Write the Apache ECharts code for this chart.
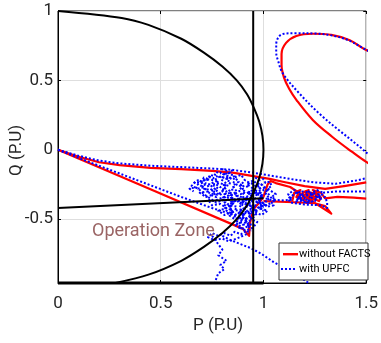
<!DOCTYPE html>
<html>
<head>
<meta charset="utf-8">
<script src="https://cdn.jsdelivr.net/npm/echarts@6/dist/echarts.min.js"></script>
<style>
  html, body { margin: 0; padding: 0; background: #fff; }
  #chart { width: 381px; height: 343px; }
</style>
</head>
<body>
<div id="chart"></div>
<script>
// Axis extents and tick labels (P and Q in per-unit)
const pRange = [0, 1.5];
const qRange = [-0.96, 1];
const pTicks = [0, 0.5, 1, 1.5];
const qTicks = [-0.5, 0, 0.5, 1];
const legendNames = ['without FACTS', 'with UPFC'];

// Generator capability limit (unit circle), read point by point
const capabilityCurve = [
  [0, 1], [0.31, 0.95], [0.44, 0.9], [0.6, 0.8], [0.71, 0.7], [0.8, 0.6],
  [0.87, 0.5], [0.92, 0.4], [0.954, 0.3], [0.98, 0.2], [0.995, 0.1], [1.0, 0],
  [0.995, -0.1], [0.98, -0.2], [0.954, -0.3], [0.92, -0.4], [0.87, -0.5],
  [0.8, -0.6], [0.71, -0.7], [0.6, -0.8], [0.44, -0.9], [0.28, -0.96]
];
// Active power limit, under-excitation limit and bottom limit
const pLimit = [[0.95, 1], [0.95, -0.96]];
const underExcitation = [[0, -0.42], [1.0, -0.35]];
const bottomLimit = [[0, -0.96], [1.0, -0.96]];

// Trajectory without FACTS
const redUpper = [
  [0, 0], [0.1, -0.05], [0.2, -0.09], [0.3, -0.11], [0.45, -0.13], [0.6, -0.14],
  [0.75, -0.152], [0.85, -0.165], [0.95, -0.19], [1.03, -0.21], [1.1, -0.232],
  [1.2, -0.262], [1.3, -0.282], [1.4, -0.26], [1.5, -0.235]
];
const redLower = [
  [0, 0], [0.45, -0.285], [0.9, -0.57], [0.93, -0.62], [0.935, -0.52], [0.928, -0.57],
  [0.95, -0.43], [0.98, -0.38], [1.0, -0.34], [1.02, -0.25], [1.035, -0.225],
  [1.06, -0.24], [1.13, -0.268], [1.33, -0.46], [1.3, -0.405], [1.25, -0.385],
  [1.15, -0.378], [1.0, -0.37]
];
const redCluster = [
  [1.14, -0.37], [1.15, -0.31], [1.18, -0.29], [1.16, -0.34], [1.2, -0.36], [1.19, -0.31],
  [1.22, -0.29], [1.21, -0.34], [1.24, -0.37], [1.23, -0.32], [1.26, -0.3], [1.25, -0.35],
  [1.21, -0.38], [1.19, -0.33], [1.22, -0.35], [1.27, -0.33], [1.24, -0.29], [1.28, -0.31],
  [1.3, -0.35], [1.36, -0.34], [1.44, -0.345], [1.5, -0.352]
];
const redClusterCore = [
  [1.16, -0.3], [1.175, -0.32], [1.165, -0.345], [1.185, -0.355], [1.195, -0.335], [1.21, -0.31],
  [1.225, -0.325], [1.215, -0.35], [1.235, -0.365], [1.245, -0.34], [1.235, -0.315], [1.255, -0.31],
  [1.265, -0.33], [1.25, -0.355], [1.27, -0.37], [1.28, -0.345], [1.26, -0.32], [1.2, -0.3]
];
const redLoop = [
  [1.62, 0.66], [1.5, 0.719], [1.42, 0.79], [1.33, 0.828], [1.24, 0.836], [1.16, 0.82],
  [1.11, 0.77], [1.088, 0.69], [1.088, 0.61], [1.1, 0.52], [1.125, 0.44], [1.16, 0.36],
  [1.24, 0.215], [1.334, 0.094], [1.43, -0.014], [1.5, -0.087], [1.58, -0.15]
];

// Trajectory with UPFC
const blueUpper = [
  [0, 0], [0.1, -0.043], [0.2, -0.078], [0.3, -0.098], [0.45, -0.115], [0.6, -0.125],
  [0.75, -0.135], [0.85, -0.145], [0.95, -0.165], [1.05, -0.19], [1.15, -0.215],
  [1.25, -0.235], [1.35, -0.245], [1.45, -0.222], [1.5, -0.205]
];
const blueLower = [
  [0, 0], [0.12, -0.07], [0.28, -0.16], [0.44, -0.25], [0.6, -0.34], [0.75, -0.42],
  [0.9, -0.49], [0.93, -0.53]
];
const blueCloud = [
  [0.85, -0.145], [0.83, -0.17], [0.86, -0.19], [0.82, -0.21], [0.79, -0.19], [0.76, -0.22],
  [0.72, -0.21], [0.7, -0.24], [0.67, -0.23], [0.65, -0.26], [0.68, -0.28], [0.71, -0.27],
  [0.73, -0.3], [0.69, -0.31], [0.72, -0.34], [0.76, -0.32], [0.78, -0.28], [0.75, -0.25],
  [0.79, -0.24], [0.82, -0.26], [0.8, -0.3], [0.83, -0.33], [0.79, -0.35], [0.76, -0.37],
  [0.73, -0.36], [0.75, -0.4], [0.79, -0.39], [0.82, -0.42], [0.78, -0.44], [0.81, -0.47],
  [0.85, -0.45], [0.83, -0.4], [0.86, -0.37], [0.84, -0.33], [0.87, -0.3], [0.85, -0.26],
  [0.88, -0.23], [0.86, -0.2], [0.89, -0.18], [0.91, -0.22], [0.88, -0.27], [0.91, -0.3],
  [0.89, -0.34], [0.92, -0.36], [0.89, -0.39], [0.92, -0.42], [0.88, -0.44], [0.91, -0.47],
  [0.87, -0.49], [0.9, -0.52], [0.86, -0.54], [0.89, -0.57], [0.93, -0.55], [0.91, -0.5],
  [0.94, -0.47], [0.92, -0.44], [0.96, -0.41], [0.93, -0.38], [0.96, -0.35], [0.93, -0.32],
  [0.95, -0.28], [0.92, -0.25], [0.95, -0.22], [0.97, -0.25], [0.99, -0.29], [0.96, -0.31],
  [1.0, -0.33], [0.97, -0.37], [1.01, -0.39], [0.98, -0.42], [1.02, -0.44], [0.99, -0.47],
  [0.96, -0.45], [0.94, -0.5], [0.97, -0.52], [0.95, -0.56], [0.92, -0.58], [0.89, -0.61],
  [0.86, -0.59], [0.84, -0.62], [0.81, -0.6], [0.78, -0.62], [0.75, -0.6], [0.73, -0.63],
  [0.76, -0.65], [0.8, -0.64], [0.83, -0.66], [0.87, -0.64], [0.9, -0.62], [0.93, -0.6]
];
const blueCloudCore = [
  [0.8, -0.28], [0.82, -0.3], [0.81, -0.32], [0.84, -0.31], [0.85, -0.34], [0.83, -0.36],
  [0.86, -0.38], [0.84, -0.4], [0.87, -0.41], [0.86, -0.44], [0.89, -0.43], [0.88, -0.46],
  [0.9, -0.45], [0.91, -0.48], [0.89, -0.5], [0.92, -0.51], [0.9, -0.54], [0.93, -0.53],
  [0.92, -0.56], [0.94, -0.55], [0.93, -0.49], [0.95, -0.47], [0.94, -0.44], [0.96, -0.43],
  [0.95, -0.4], [0.93, -0.41], [0.91, -0.39], [0.93, -0.36], [0.91, -0.34], [0.94, -0.33],
  [0.92, -0.3], [0.95, -0.31], [0.97, -0.33], [0.96, -0.29], [0.98, -0.31], [0.99, -0.35],
  [0.97, -0.38], [0.99, -0.4], [0.97, -0.43], [0.95, -0.45], [0.92, -0.46], [0.9, -0.42],
  [0.88, -0.4], [0.9, -0.37], [0.88, -0.35], [0.86, -0.32], [0.88, -0.3], [0.9, -0.28],
  [0.89, -0.25], [0.91, -0.27], [0.93, -0.26], [0.92, -0.23], [0.94, -0.24], [0.96, -0.26],
  [0.98, -0.24], [1.0, -0.26], [1.02, -0.29], [1.01, -0.32], [1.03, -0.35], [1.01, -0.37],
  [1.03, -0.39], [1.0, -0.41], [0.98, -0.38], [0.96, -0.37], [0.94, -0.38], [0.92, -0.4],
  [0.89, -0.37], [0.87, -0.36], [0.85, -0.39], [0.83, -0.42], [0.85, -0.43], [0.84, -0.46],
  [0.86, -0.48], [0.88, -0.49], [0.87, -0.52], [0.89, -0.53], [0.88, -0.56], [0.9, -0.57],
  [0.92, -0.59], [0.94, -0.58]
];
const blueCloudDense = [
  [0.83, -0.29], [0.845, -0.305], [0.835, -0.32], [0.85, -0.33], [0.865, -0.315], [0.875, -0.33],
  [0.87, -0.35], [0.885, -0.36], [0.875, -0.375], [0.895, -0.385], [0.905, -0.37], [0.915, -0.385],
  [0.91, -0.405], [0.925, -0.415], [0.935, -0.4], [0.945, -0.415], [0.94, -0.43], [0.955, -0.44],
  [0.945, -0.455], [0.93, -0.445], [0.92, -0.46], [0.905, -0.45], [0.895, -0.465], [0.88, -0.455],
  [0.87, -0.47], [0.855, -0.46], [0.85, -0.44], [0.835, -0.43], [0.84, -0.41], [0.825, -0.395],
  [0.835, -0.38], [0.85, -0.37], [0.86, -0.355], [0.845, -0.345], [0.83, -0.35], [0.82, -0.335],
  [0.81, -0.345], [0.8, -0.36], [0.815, -0.375], [0.805, -0.39], [0.82, -0.41], [0.81, -0.425],
  [0.825, -0.445], [0.84, -0.455], [0.835, -0.475], [0.85, -0.49], [0.865, -0.5], [0.88, -0.485],
  [0.895, -0.5], [0.905, -0.485], [0.92, -0.495], [0.935, -0.48], [0.95, -0.49], [0.96, -0.47],
  [0.97, -0.455], [0.965, -0.435], [0.975, -0.415], [0.96, -0.4], [0.97, -0.38], [0.955, -0.365],
  [0.94, -0.355], [0.93, -0.34], [0.915, -0.35], [0.9, -0.34], [0.89, -0.32], [0.9, -0.305],
  [0.915, -0.315], [0.93, -0.305], [0.945, -0.32], [0.96, -0.31], [0.975, -0.325], [0.985, -0.345],
  [0.975, -0.36], [0.99, -0.375], [0.98, -0.395], [0.995, -0.41], [0.985, -0.43], [1.0, -0.44]
];
const blueCloudWest = [
  [0.66, -0.24], [0.68, -0.22], [0.7, -0.23], [0.71, -0.2], [0.73, -0.21], [0.74, -0.18],
  [0.76, -0.19], [0.77, -0.16], [0.79, -0.17], [0.8, -0.14], [0.82, -0.15], [0.81, -0.18],
  [0.83, -0.19], [0.82, -0.22], [0.84, -0.23], [0.83, -0.26], [0.81, -0.25], [0.79, -0.27],
  [0.77, -0.25], [0.78, -0.22], [0.76, -0.23], [0.74, -0.25], [0.72, -0.24], [0.7, -0.27],
  [0.72, -0.29], [0.74, -0.28], [0.76, -0.3], [0.75, -0.33], [0.77, -0.34], [0.78, -0.31],
  [0.8, -0.33], [0.81, -0.36], [0.79, -0.37], [0.77, -0.38], [0.75, -0.36], [0.73, -0.34],
  [0.71, -0.32], [0.69, -0.29], [0.67, -0.27], [0.64, -0.28], [0.66, -0.3]
];
const blueCloudWestDense = [
  [0.84, -0.16], [0.825, -0.175], [0.81, -0.165], [0.8, -0.185], [0.785, -0.2], [0.77, -0.19],
  [0.755, -0.205], [0.74, -0.195], [0.73, -0.215], [0.715, -0.225], [0.7, -0.215], [0.69, -0.235],
  [0.68, -0.25], [0.695, -0.26], [0.71, -0.25], [0.725, -0.265], [0.74, -0.255], [0.755, -0.27],
  [0.765, -0.285], [0.75, -0.295], [0.735, -0.31], [0.745, -0.32], [0.76, -0.315], [0.775, -0.325],
  [0.79, -0.31], [0.8, -0.295], [0.815, -0.28], [0.805, -0.265], [0.82, -0.245], [0.81, -0.23],
  [0.795, -0.215], [0.805, -0.2], [0.82, -0.195], [0.835, -0.21], [0.85, -0.2], [0.86, -0.215],
  [0.855, -0.235], [0.87, -0.25], [0.86, -0.265], [0.845, -0.275], [0.85, -0.295]
];
const blueCloudEast = [
  [0.96, -0.2], [0.98, -0.22], [1.0, -0.21], [1.01, -0.24], [1.03, -0.23], [1.04, -0.26],
  [1.02, -0.28], [1.04, -0.3], [1.06, -0.32], [1.04, -0.34], [1.06, -0.36], [1.04, -0.38],
  [1.05, -0.4], [1.02, -0.41], [1.0, -0.39], [0.98, -0.36], [1.0, -0.34], [0.98, -0.32],
  [1.0, -0.29], [0.97, -0.27], [0.99, -0.25], [1.03, -0.33], [1.05, -0.37], [1.01, -0.35]
];
const blueTail = [
  [0.75, -0.62], [0.78, -0.68], [0.8, -0.72], [0.78, -0.76], [0.82, -0.8], [0.79, -0.83],
  [0.81, -0.86], [0.78, -0.89], [0.77, -0.93], [0.765, -0.96]
];
const blueDescent = [
  [0.8, -0.62], [0.84, -0.651], [0.94, -0.71], [0.99, -0.75], [1.05, -0.81],
  [1.11, -0.856], [1.17, -0.91], [1.22, -0.96]
];
const blueEast = [
  [1.05, -0.36], [1.1, -0.365], [1.14, -0.36], [1.12, -0.32], [1.15, -0.29], [1.18, -0.33],
  [1.16, -0.37], [1.2, -0.35], [1.22, -0.3], [1.24, -0.34], [1.21, -0.38], [1.25, -0.37],
  [1.27, -0.32], [1.23, -0.31], [1.19, -0.3], [1.17, -0.34], [1.21, -0.33], [1.26, -0.29],
  [1.29, -0.31], [1.27, -0.36], [1.3, -0.34], [1.31, -0.38], [1.31, -0.42], [1.28, -0.4],
  [1.2, -0.395], [1.13, -0.38], [1.12, -0.35], [1.15, -0.32], [1.17, -0.3], [1.19, -0.32],
  [1.18, -0.35], [1.2, -0.37], [1.22, -0.35], [1.24, -0.32], [1.26, -0.34], [1.28, -0.33],
  [1.25, -0.36], [1.23, -0.38], [1.19, -0.375], [1.16, -0.355]
];
const blueTailEast = [
  [1.29, -0.31], [1.35, -0.3], [1.42, -0.3], [1.5, -0.3]
];
const blueLoop = [
  [1.62, 0.64], [1.5, 0.72], [1.42, 0.785], [1.34, 0.822], [1.25, 0.838], [1.16, 0.84],
  [1.1, 0.836], [1.075, 0.815], [1.062, 0.76], [1.062, 0.7], [1.07, 0.647], [1.094, 0.551],
  [1.174, 0.407], [1.27, 0.263], [1.366, 0.143], [1.478, 0.01], [1.5, -0.02], [1.58, -0.08]
];

const RED = '#ff0000';
const BLUE = '#0000ff';
const FONT = '"Roboto", "Liberation Sans", sans-serif';

function path(name, data, color, dash, width, z, opts) {
  return Object.assign({
    type: 'line', name: name, data: data, symbol: 'none', showSymbol: false,
    animation: false, silent: true, z: z,
    lineStyle: { color: color, width: width, type: dash, cap: 'butt', join: 'round' },
    itemStyle: { color: color }
  }, opts || {});
}

const series = [
  path(legendNames[0], redUpper, RED, 'solid', 2.2, 3),
  path(legendNames[0], redLower, RED, 'solid', 2.2, 3),
  path(legendNames[0], redCluster, RED, 'solid', 2.2, 3),
  path(legendNames[0], redClusterCore, RED, 'solid', 2.2, 3),
  path(legendNames[0], redLoop, RED, 'solid', 2.2, 3, { smooth: 0.35 }),
  path(legendNames[1], blueUpper, BLUE, 'dotted', 2, 4),
  path(legendNames[1], blueLower, BLUE, 'dotted', 2, 4),
  path(legendNames[1], blueCloud, BLUE, 'dotted', 2, 4),
  path(legendNames[1], blueCloudCore, BLUE, 'dotted', 2, 4),
  path(legendNames[1], blueCloudDense, BLUE, 'dotted', 2, 4),
  path(legendNames[1], blueCloudWest, BLUE, 'dotted', 2, 4),
  path(legendNames[1], blueCloudWestDense, BLUE, 'dotted', 2, 4),
  path(legendNames[1], blueCloudEast, BLUE, 'dotted', 2, 4),
  path(legendNames[1], blueTail, BLUE, 'dotted', 2, 4),
  path(legendNames[1], blueDescent, BLUE, 'dotted', 2, 4),
  path(legendNames[1], blueEast, BLUE, 'dotted', 2, 4),
  path(legendNames[1], blueTailEast, BLUE, 'dotted', 2, 4),
  path(legendNames[1], blueLoop, BLUE, 'dotted', 2, 4, { smooth: 0.35 }),
  path('capability', capabilityCurve, '#000', 'solid', 2, 5, { smooth: 0.3 }),
  path('pmax', pLimit, '#000', 'solid', 2, 5),
  path('uel', underExcitation, '#000', 'solid', 2, 5),
  path('qmin', bottomLimit, '#000', 'solid', 3, 5, { clip: false })
];

const labelStyle = { color: '#262626', fontSize: 17, fontFamily: FONT };
const tickStyle = { show: true, inside: true, length: 3, lineStyle: { color: '#000' } };

// Boxed legend in the lower right corner of the plot (absolute pixel placement)
const LX = 279, LY = 243;
const legendParts = [
  { type: 'rect', z: 100, shape: { x: LX, y: LY, width: 89, height: 37 }, style: { fill: '#fff', stroke: '#333', lineWidth: 1 } },
  { type: 'rect', z: 101, shape: { x: LX + 4, y: LY + 10, width: 15, height: 2.4 }, style: { fill: RED } },
  { type: 'text', z: 101, x: LX + 20, y: LY + 11, style: { text: legendNames[0], fill: '#000', font: '11px ' + FONT, verticalAlign: 'middle' } },
  { type: 'text', z: 101, x: LX + 20, y: LY + 26, style: { text: legendNames[1], fill: '#000', font: '11px ' + FONT, verticalAlign: 'middle' } }
].concat([2, 6, 10, 14].map(function (dx) {
  return { type: 'rect', z: 102, shape: { x: LX + dx, y: LY + 25, width: 2, height: 2 }, style: { fill: BLUE, stroke: null } };
}));

const chart = echarts.init(document.getElementById('chart'), null, { renderer: 'canvas' });
chart.setOption({
  animation: false,
  backgroundColor: '#fff',
  grid: { left: 58, top: 11, width: 313, height: 272, show: true, borderColor: '#000', borderWidth: 1, backgroundColor: '#fff' },
  xAxis: [
    {
      type: 'value', min: pRange[0], max: pRange[1], interval: 0.5,
      axisLine: { show: true, onZero: false, lineStyle: { color: '#000', width: 1 } },
      axisTick: tickStyle,
      axisLabel: Object.assign({ margin: 12, formatter: v => pTicks.indexOf(v) >= 0 ? String(v) : '' }, labelStyle),
      splitLine: { show: true, lineStyle: { color: '#dedede', width: 1 } }
    },
    {
      type: 'value', position: 'top', min: pRange[0], max: pRange[1], interval: 0.5,
      axisLine: { show: false, onZero: false }, axisLabel: { show: false }, splitLine: { show: false },
      axisTick: tickStyle
    }
  ],
  yAxis: [
    {
      type: 'value', min: qRange[0], max: qRange[1], splitNumber: 4, minInterval: 0.5, maxInterval: 0.5,
      axisLine: { show: true, onZero: false, lineStyle: { color: '#000', width: 1 } },
      axisTick: tickStyle,
      axisLabel: Object.assign({ margin: 5, showMinLabel: false, formatter: v => qTicks.indexOf(v) >= 0 ? String(v) : '' }, labelStyle),
      splitLine: { show: true, lineStyle: { color: '#dedede', width: 1 } }
    },
    {
      type: 'value', position: 'right', min: qRange[0], max: qRange[1], splitNumber: 4, minInterval: 0.5, maxInterval: 0.5,
      axisLine: { show: false, onZero: false }, axisLabel: { show: false }, splitLine: { show: false },
      axisTick: tickStyle
    }
  ],
  graphic: [
    { type: 'text', left: 193, top: 317, z: 10, style: { text: 'P (P.U)', fill: '#262626', font: '17px ' + FONT } },
    { type: 'text', x: 8, y: 176, rotation: Math.PI / 2, z: 10, style: { text: 'Q (P.U)', fill: '#262626', font: '17px ' + FONT } },
    { type: 'text', left: 92, top: 222, z: 10, style: { text: 'Operation Zone', fill: '#9a6464', font: '18px ' + FONT } }
  ].concat(legendParts),
  series: series
});
</script>
</body>
</html>
